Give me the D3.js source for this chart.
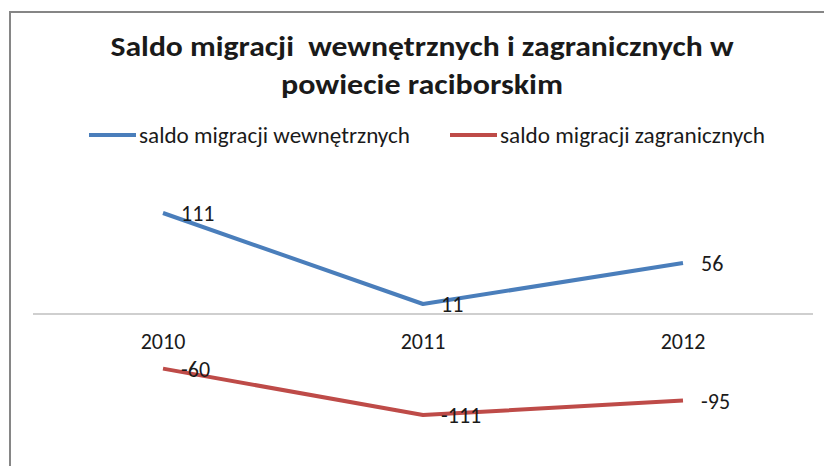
<!DOCTYPE html>
<html>
<head>
<meta charset="utf-8">
<script src="https://cdn.jsdelivr.net/npm/d3@7"></script>
<style>
  body { margin: 0; background: #fff; }
  svg text { font-family: Carlito, Calibri, "Open Sans", sans-serif; fill: #1a1a1a; }
</style>
</head>
<body>
<div id="chart"></div>
<script>
// chart data
var years = ["2010", "2011", "2012"];
var internal = [111, 11, 56];
var foreign = [-60, -111, -95];
var seriesNames = ["saldo migracji wewnętrznych", "saldo migracji zagranicznych"];
var titleLines = ["Saldo migracji  wewnętrznych i zagranicznych w", "powiecie raciborskim"];

var width = 824,
  height = 466;

var svg = d3.select("#chart").append("svg")
  .attr("width", width)
  .attr("height", height);

// chart frame (only left and top visible)
svg.append("path")
  .attr("d", "M10,466V12H824")
  .attr("fill", "none")
  .attr("stroke", "#868686")
  .attr("stroke-width", 2);

//Scales
var x = d3.scaleBand()
  .domain(years)
  .range([33, 813]);

var y = d3.scaleLinear()
  .domain([-150, 150])
  .range([450.5, 177.5]);

//Title
var titleWidths = [623, 282];
svg.selectAll("text.title")
  .data(titleLines)
  .enter().append("text")
  .attr("class", "title")
  .attr("x", 422)
  .attr("y", function(d, i) { return 56 + i * 38; })
  .attr("text-anchor", "middle")
  .attr("font-size", 29)
  .attr("font-weight", "bold")
  .attr("textLength", function(d, i) { return titleWidths[i]; })
  .attr("lengthAdjust", "spacingAndGlyphs")
  .style("white-space", "pre")
  .text(function(d) { return d; });

//Legend
var colors = ["#4a7ebb", "#be4b48"];
var legendX = [89, 450],
  legendWidths = [271, 265];
var legend = svg.selectAll("g.legend")
  .data(seriesNames)
  .enter().append("g")
  .attr("class", "legend")
  .attr("transform", function(d, i) { return "translate(" + legendX[i] + ",135)"; });

legend.append("line")
  .attr("x1", 0).attr("x2", 47)
  .attr("stroke", function(d, i) { return colors[i]; })
  .attr("stroke-width", 4);

legend.append("text")
  .attr("x", 50)
  .attr("dy", "0.33em")
  .attr("font-size", 23)
  .attr("textLength", function(d, i) { return legendWidths[i]; })
  .attr("lengthAdjust", "spacingAndGlyphs")
  .text(function(d) { return d; });

//Category axis at zero
svg.append("line")
  .attr("x1", x.range()[0]).attr("x2", x.range()[1])
  .attr("y1", y(0)).attr("y2", y(0))
  .attr("stroke", "#bfbfbf")
  .attr("stroke-width", 1.5);

svg.selectAll("text.year")
  .data(years)
  .enter().append("text")
  .attr("class", "year")
  .attr("x", function(d) { return x(d) + x.bandwidth() / 2; })
  .attr("y", 349)
  .attr("text-anchor", "middle")
  .attr("font-size", 22)
  .text(function(d) { return d; });

//Lines
var line = d3.line()
  .x(function(d, i) { return x(years[i]) + x.bandwidth() / 2; })
  .y(function(d) { return y(d); });

[internal, foreign].forEach(function(values, s) {
  svg.append("path")
    .datum(values)
    .attr("fill", "none")
    .attr("stroke", colors[s])
    .attr("stroke-width", 4)
    .attr("stroke-linejoin", "round")
    .attr("d", line);

  svg.selectAll("text.lab" + s)
    .data(values)
    .enter().append("text")
    .attr("class", "lab" + s)
    .attr("x", function(d, i) { return x(years[i]) + x.bandwidth() / 2 + 18; })
    .attr("y", function(d) { return y(d); })
    .attr("dy", "0.38em")
    .attr("font-size", 22)
    .text(function(d) { return d; });
});
</script>
</body>
</html>
